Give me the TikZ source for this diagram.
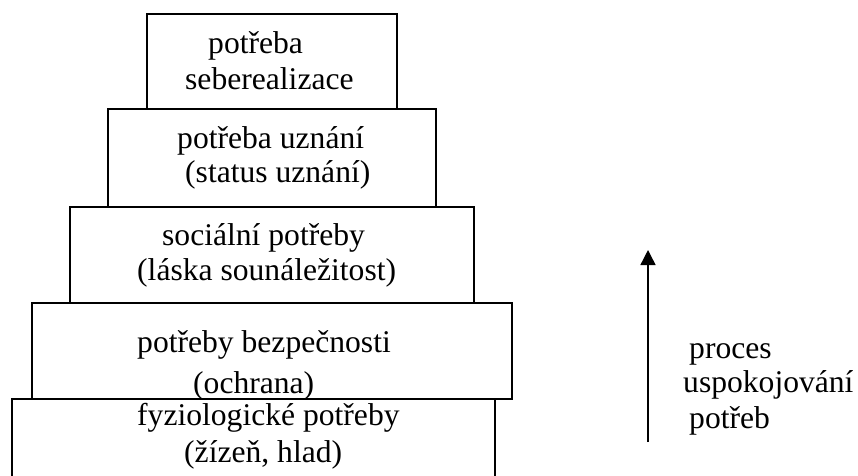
\documentclass[tikz,border=0pt]{standalone}
\usepackage{fontspec}
\setmainfont{Liberation Serif}
\usetikzlibrary{arrows.meta}
\begin{document}
\begin{tikzpicture}[x=1pt,y=-1pt,
  levelbox/.style={draw=black,line width=1.6pt,rectangle,inner sep=0pt,outer sep=0pt},
  txt/.style={anchor=base west,inner sep=0pt,font=\fontsize{31.6}{36}\selectfont},
  uparrow/.style={line width=1.4pt,-{Triangle[length=15pt,width=15pt]}}]
\useasboundingbox (0,0) rectangle (858,475);
% boxes (bottom to top)
\node[levelbox,minimum width=483pt,minimum height=81pt] (b5) at (253.5,439.5) {};
\node[levelbox,minimum width=480pt,minimum height=96pt] (b4) at (272,351) {};
\node[levelbox,minimum width=404pt,minimum height=96pt] (b3) at (272,255) {};
\node[levelbox,minimum width=328pt,minimum height=98pt] (b2) at (272,158) {};
\node[levelbox,minimum width=250pt,minimum height=95pt] (b1) at (272,61.5) {};
% texts
\node[txt] (t1a) at (208,53) {potřeba};
\node[txt] (t1b) at (185,89) {seberealizace};
\node[txt] (t2a) at (177,148) {potřeba uznání};
\node[txt] (t2b) at (185,182) {(status uznání)};
\node[txt] (t3a) at (162,245) {sociální potřeby};
\node[txt] (t3b) at (137,280) {(láska sounáležitost)};
\node[txt] (t4a) at (137,352) {potřeby bezpečnosti};
\node[txt] (t4b) at (193,393) {(ochrana)};
\node[txt] (t5a) at (137,425) {fyziologické potřeby};
\node[txt] (t5b) at (184,462) {(žízeň, hlad)};
% arrow and its label
\coordinate (a1) at (648,442);
\coordinate (a2) at (648,250);
\draw[uparrow] (a1) -- (a2);
\node[txt] (p1) at (689,358) {proces};
\node[txt] (p2) at (683,392) {uspokojování};
\node[txt] (p3) at (689,428) {potřeb};
\end{tikzpicture}
\end{document}
